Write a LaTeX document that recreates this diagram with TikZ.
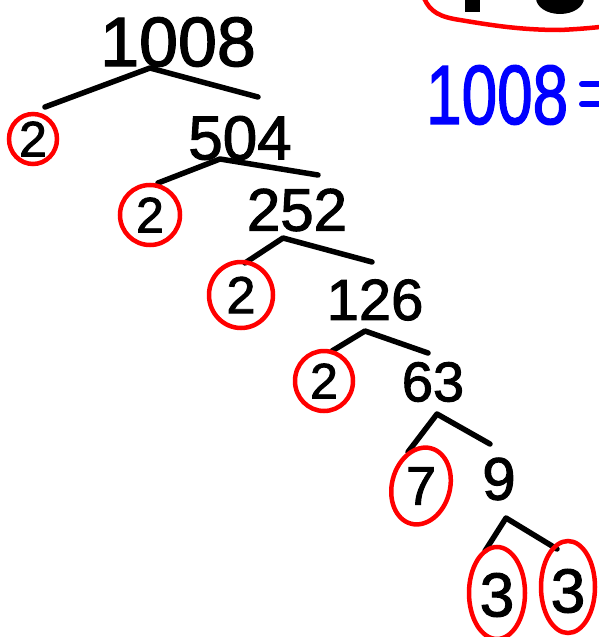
\documentclass[tikz,border=0pt]{standalone}
\usepackage{fontspec}
\setmainfont[FakeBold=1.8]{Liberation Sans}
\begin{document}
\begin{tikzpicture}[x=1pt,y=-1pt,
  num/.style={inner sep=0pt, font=\fontsize{#1}{#1}\selectfont},
  num/.default=60,
  branch/.style={line width=5.5pt, line cap=round, line join=round},
  ring/.style={draw=red, line width=4.5pt},
]
\useasboundingbox (0,0) rectangle (598,637);
% top-right partial title
\fill[black] (465,-2) rectangle (480,12);
\fill[black] (560,-2) ellipse (24 and 16);
\draw[red, line width=4.5pt, line cap=round] (424,-2) .. controls (430,12) and (440,17) .. (460,20) .. controls (490,25) and (520,30) .. (560,30) .. controls (580,29) and (590,28) .. (600,27);
% blue equation
\node[num=84, text=blue, xscale=0.76, anchor=west] (eq) at (426,95) {1008};
\coordinate (eqa) at (582,84);
\coordinate (eqb) at (582,104);
\draw[blue, line width=6pt, line cap=round] (eqa) -- ++(20,0);
\draw[blue, line width=6pt, line cap=round] (eqb) -- ++(20,0);
% tree numbers
\node[num=70] (n1008) at (178,42) {1008};
\node[num=62] (n504) at (240,138) {504};
\node[num=60] (n252) at (297,210) {252};
\node[num=58] (n126) at (375,300) {126};
\node[num=56] (n63) at (433,382) {63};
\node[num=60] (n9) at (499,479) {9};
\node[num=50] (p1) at (33,139) {2};
\node[num=50] (p2) at (150,215) {2};
\node[num=52] (p3) at (241,295) {2};
\node[num=50] (p4) at (324,381) {2};
\node[num=54] (p5) at (421,486) {7};
\node[num=62] (p6) at (497,595) {3};
\node[num=62] (p7) at (568,591) {3};
% junction coordinates
\coordinate (j1) at (150,68);
\coordinate (j2) at (220,159);
\coordinate (j3) at (283,238);
\coordinate (j4) at (365,331);
\coordinate (j5) at (437,414);
\coordinate (j6) at (506,518);
% branches
\draw[branch] (45,107) -- (j1) -- (258,97);
\draw[branch] (158,183) -- (j2) -- (318,175);
\draw[branch] (245,263) -- (j3) -- (372,262);
\draw[branch] (332,351) -- (j4) -- (428,353);
\draw[branch] (408,452) -- (j5) -- (490,444);
\draw[branch] (485,551) -- (j6) -- (557,549);
% red rings
\draw[ring] (p1) ellipse (24 and 25);
\draw[ring] (p2) ellipse (30 and 30);
\draw[ring] (p3) ellipse (32 and 33);
\draw[ring] (p4) ellipse (29 and 30);
\draw[ring, rotate around={-15:(p5)}] (p5) ellipse (29 and 39);
\draw[ring] ([yshift=2pt]p6) ellipse (28 and 46);
\draw[ring] ([yshift=4pt]p7) ellipse (27 and 46);
\end{tikzpicture}
\end{document}
